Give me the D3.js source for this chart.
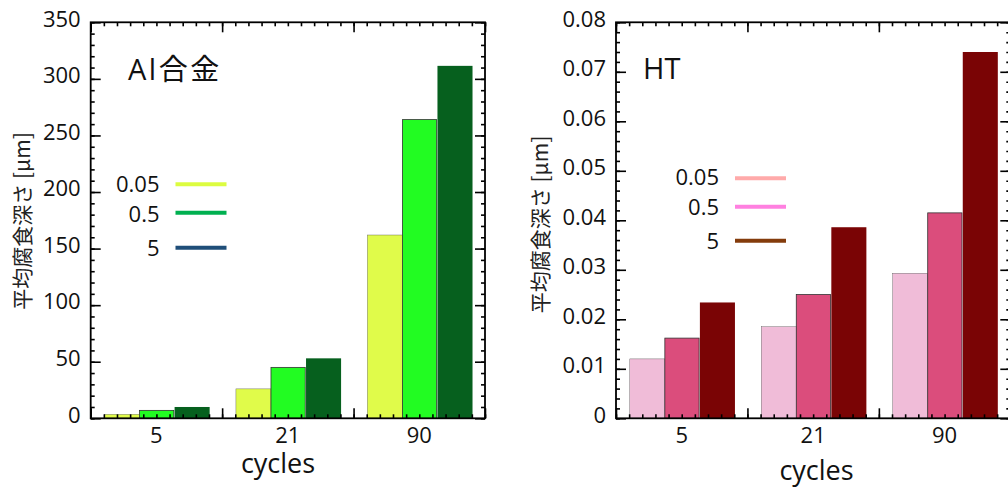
<!DOCTYPE html>
<html><head><meta charset="utf-8">
<script src="https://cdn.jsdelivr.net/npm/d3@7"></script>
<style>
body{margin:0;background:#fff;}
svg{display:block;}
text{font-family:"Open Sans","Noto Sans","Noto Sans CJK JP",sans-serif;fill:#111;}
</style></head>
<body>
<svg id="chart" width="1008" height="487"></svg>
<script>
const categories = ["5", "21", "90"];
const seriesNames = ["0.05", "0.5", "5"];
// values per series (rows) x cycles (columns)
const alValues = [
  [3.5, 26, 162],
  [7, 45, 264],
  [10, 53, 311.5]
];
const htValues = [
  [0.012, 0.0185, 0.0293],
  [0.0162, 0.025, 0.0415],
  [0.0234, 0.0386, 0.074]
];
const alTicks = [0, 50, 100, 150, 200, 250, 300, 350];
const htTicks = [0, 0.01, 0.02, 0.03, 0.04, 0.05, 0.06, 0.07, 0.08];
const alBarColors = ["#e0fb4a", "#22fc22", "#06601e"];
const htBarColors = ["#f0bcd8", "#db4d7c", "#7a0405"];
const alLegendColors = ["#dcfc40", "#00b050", "#1f4e79"];
const htLegendColors = ["#ffaaaa", "#ff80e0", "#843c0c"];

const svg = d3.select("#chart");

function panel(cfg) {
  const g = svg.append("g");
  const {x0, x1, y0, y1} = cfg;
  const y = d3.scaleLinear().domain([0, cfg.max]).range([y1, y0]);
  const x = d3.scaleBand().domain(categories).range([x0, x1]).padding(0);
  const xs = d3.scaleBand().domain(seriesNames)
    .range([x.bandwidth() * 0.105, x.bandwidth() * 0.905]).padding(0);
  const xl = d3.scaleLinear().domain([0, categories.length]).range([x0, x1]);

  // bars
  categories.forEach((c, ci) => {
    seriesNames.forEach((s, si) => {
      const v = cfg.values[si][ci];
      g.append("rect")
        .attr("x", x(c) + xs(s))
        .attr("y", y(v))
        .attr("width", xs.bandwidth() - (si === 1 ? 0.8 : 0))
        .attr("height", y(0) - y(v))
        .attr("fill", cfg.barColors[si])
        .attr("stroke", si === 1 ? "#333" : (si === 0 ? "#555" : "none"))
        .attr("stroke-width", si === 0 ? 0.4 : 0.8);
    });
  });

  // ticks
  const minorY = d3.range(0, cfg.max + cfg.minorStep / 2, cfg.minorStep);
  const minorX = d3.range(0, categories.length * 10 + 1).map(d => d / 10);
  const majorX = d3.range(0, categories.length + 1);

  const axStyle = sel => { sel.select(".domain").remove(); sel.selectAll("line").attr("stroke", "#000").attr("stroke-width", 1.6); };

  // left
  g.append("g").attr("transform", `translate(${x0},0)`)
    .call(d3.axisLeft(y).tickValues(minorY).tickSize(-4).tickFormat("")).call(axStyle);
  const yl = g.append("g").attr("transform", `translate(${x0},0)`)
    .call(d3.axisLeft(y).tickValues(cfg.ticks).tickSize(-10).tickPadding(10).tickFormat(cfg.fmt)).call(axStyle);
  yl.selectAll("text").attr("font-size", 22).attr("dy", "0.17em").style("font-family", '"Open Sans","Noto Sans",sans-serif');
  // right
  g.append("g").attr("transform", `translate(${x1},0)`)
    .call(d3.axisRight(y).tickValues(minorY).tickSize(-4).tickFormat("")).call(axStyle);
  g.append("g").attr("transform", `translate(${x1},0)`)
    .call(d3.axisRight(y).tickValues(cfg.ticks).tickSize(-10).tickFormat("")).call(axStyle);
  // bottom
  g.append("g").attr("transform", `translate(0,${y1})`)
    .call(d3.axisBottom(xl).tickValues(minorX).tickSize(-4).tickFormat("")).call(axStyle);
  g.append("g").attr("transform", `translate(0,${y1})`)
    .call(d3.axisBottom(xl).tickValues(majorX).tickSize(-10).tickFormat("")).call(axStyle);
  // top
  g.append("g").attr("transform", `translate(0,${y0})`)
    .call(d3.axisTop(xl).tickValues(minorX).tickSize(-4).tickFormat("")).call(axStyle);
  g.append("g").attr("transform", `translate(0,${y0})`)
    .call(d3.axisTop(xl).tickValues(majorX).tickSize(-10).tickFormat("")).call(axStyle);
  // category labels
  const xa = g.append("g").attr("transform", `translate(0,${y1})`)
    .call(d3.axisBottom(x).tickSize(0).tickPadding(0));
  xa.select(".domain").remove();
  xa.selectAll("text").attr("font-size", 22).attr("y", 24.5).attr("dy", 0).style("font-family", '"Open Sans","Noto Sans",sans-serif');

  // frame
  g.append("rect").attr("x", x0).attr("y", y0).attr("width", x1 - x0).attr("height", y1 - y0)
    .attr("fill", "none").attr("stroke", "#000").attr("stroke-width", 1.8);

  // title
  g.append("text").attr("x", cfg.titleX).attr("y", cfg.titleY).attr("font-size", 29)
    .attr("letter-spacing", cfg.titleSpacing)
    .style("font-family", '"Open Sans","Noto Sans CJK JP",sans-serif').text(cfg.title);

  // x axis label
  g.append("text").attr("x", cfg.xlabX).attr("y", cfg.xlabY).attr("text-anchor", "middle")
    .attr("font-size", 27).text("cycles");

  // y axis label
  g.append("text").attr("transform", `translate(${cfg.ylabX},${cfg.ylabY}) rotate(-90)`)
    .attr("text-anchor", "middle").attr("dy", "0.35em").attr("font-size", 21)
    .style("font-family", '"Noto Sans CJK JP","Noto Sans",sans-serif').style("fill", "#222")
    .text("平均腐食深さ [μm]");

  // legend
  seriesNames.forEach((s, i) => {
    g.append("text").attr("x", cfg.legX).attr("y", cfg.legTextY[i]).attr("text-anchor", "end")
      .attr("font-size", 22).text(s);
    g.append("line").attr("x1", cfg.legX + 16).attr("x2", cfg.legX + 67)
      .attr("y1", cfg.legLineY[i]).attr("y2", cfg.legLineY[i])
      .attr("stroke", cfg.legColors[i]).attr("stroke-width", 4);
  });
}

panel({
  x0: 90.7, x1: 485, y0: 22.3, y1: 418.3, max: 350, ticks: alTicks, minorStep: 10,
  fmt: d3.format("d"), values: alValues, barColors: alBarColors, legColors: alLegendColors,
  title: "Al合金", titleSpacing: 2.5, titleX: 128, titleY: 80, xlabX: 278, xlabY: 473, ylabX: 22.5, ylabY: 221,
  legX: 159.5, legTextY: [191.7, 221.7, 256], legLineY: [184.3, 212.7, 247.7]
});
panel({
  x0: 616, x1: 1010.3, y0: 22.3, y1: 418.3, max: 0.08, ticks: htTicks, minorStep: 0.002,
  fmt: d => d === 0 ? "0" : d3.format(".2f")(d), values: htValues, barColors: htBarColors, legColors: htLegendColors,
  title: "HT", titleSpacing: 0, titleX: 643, titleY: 79, xlabX: 816.5, xlabY: 480, ylabX: 541, ylabY: 224.5,
  legX: 719, legTextY: [185, 215, 249], legLineY: [178.3, 206.7, 240.7]
});
</script>
</body></html>
